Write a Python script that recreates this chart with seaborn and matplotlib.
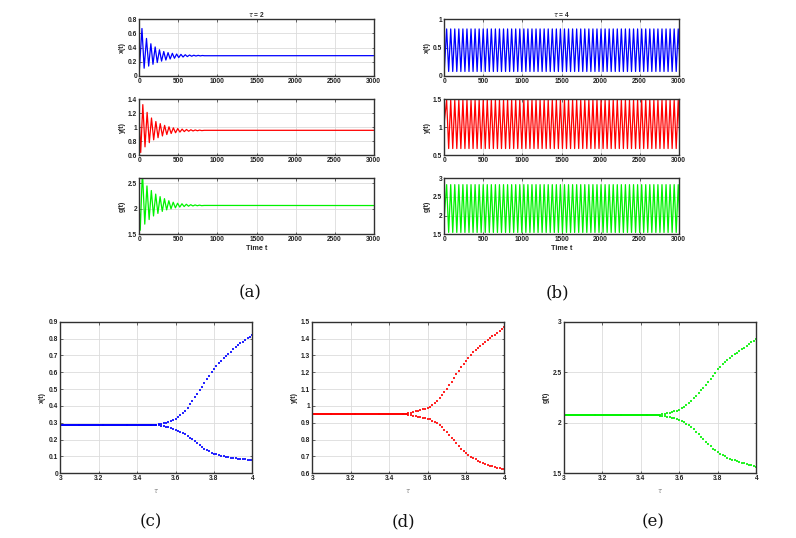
import numpy as np
import pandas as pd
import matplotlib
matplotlib.use("Agg")
import matplotlib.pyplot as plt
import seaborn as sns
from matplotlib.ticker import FixedLocator, FuncFormatter

# ---------------- data: tau = 2 (damped oscillations, extrema) -------------
x2_t = [0, 34, 62, 92, 120, 148, 175, 203, 230, 258, 285, 313, 340, 368, 395, 423, 450, 478,
        505, 533, 560, 588, 615, 643, 670, 698, 725, 753, 780, 808, 835, 3000]
x2_v = [0.07, 0.67, 0.11, 0.53, 0.14, 0.455, 0.165, 0.41, 0.19, 0.37, 0.21, 0.345, 0.225, 0.33,
        0.24, 0.32, 0.25, 0.31, 0.26, 0.305, 0.268, 0.30, 0.274, 0.296, 0.279, 0.293, 0.282,
        0.291, 0.284, 0.289, 0.286, 0.287]

y2_t = [0, 18, 45, 73, 100, 128, 156, 184, 212, 240, 268, 296, 324, 352, 380, 408, 436, 464,
        492, 520, 548, 576, 604, 632, 660, 688, 716, 744, 772, 800, 830, 3000]
y2_v = [1.10, 0.64, 1.32, 0.72, 1.21, 0.78, 1.13, 0.82, 1.08, 0.85, 1.05, 0.875, 1.025, 0.895,
        1.005, 0.91, 0.99, 0.92, 0.98, 0.93, 0.972, 0.937, 0.967, 0.942, 0.963, 0.946, 0.960,
        0.949, 0.958, 0.951, 0.955, 0.955]

g2_t = [0, 12, 40, 70, 98, 126, 154, 182, 210, 238, 266, 294, 322, 350, 378, 406, 434, 462,
        490, 518, 546, 574, 602, 630, 658, 686, 714, 742, 770, 798, 830, 3000]
g2_v = [2.00, 1.58, 2.75, 1.70, 2.45, 1.79, 2.36, 1.86, 2.29, 1.91, 2.24, 1.95, 2.20, 1.98,
        2.16, 2.00, 2.13, 2.02, 2.11, 2.035, 2.10, 2.045, 2.09, 2.052, 2.082, 2.057, 2.077,
        2.061, 2.073, 2.063, 2.067, 2.065]

# ---------------- data: tau = 4 (sustained oscillations) -------------------------------------
peak_times4 = [30, 82, 134, 186, 238, 290, 342, 394, 446, 498, 550, 602, 654, 706, 758, 810,
               862, 914, 966, 1018, 1070, 1122, 1174, 1226, 1278, 1330, 1382, 1434, 1486, 1538,
               1590, 1642, 1694, 1746, 1798, 1850, 1902, 1954, 2006, 2058, 2110, 2162, 2214,
               2266, 2318, 2370, 2422, 2474, 2526, 2578, 2630, 2682, 2734, 2786, 2838, 2890,
               2942, 2994]
half_period4 = 26
x4_start, x4_peak, x4_trough = 0.10, 0.83, 0.08
y4_start, y4_peak, y4_trough = 1.10, 1.48, 0.62
g4_start, g4_peak, g4_trough = 2.00, 2.83, 1.55

# ---------------- data: bifurcation diagrams -------------------------------------------------
tau_flat = np.arange(3.0, 3.5, 0.005)
tau_split = np.linspace(3.5, 4.0, 41)
x_eq, y_eq, g_eq = 0.287, 0.952, 2.072

x_up = [0.289, 0.291, 0.294, 0.296, 0.300, 0.304, 0.309, 0.315, 0.322, 0.332, 0.344, 0.357,
        0.372, 0.390, 0.409, 0.430, 0.451, 0.472, 0.494, 0.515, 0.536, 0.557, 0.578, 0.599,
        0.618, 0.636, 0.654, 0.669, 0.684, 0.698, 0.711, 0.723, 0.735, 0.747, 0.759, 0.771,
        0.782, 0.792, 0.802, 0.812, 0.822]
x_lo = [0.285, 0.284, 0.281, 0.279, 0.276, 0.272, 0.268, 0.264, 0.260, 0.254, 0.247, 0.240,
        0.231, 0.222, 0.212, 0.201, 0.190, 0.179, 0.167, 0.157, 0.147, 0.138, 0.130, 0.123,
        0.117, 0.112, 0.107, 0.103, 0.100, 0.097, 0.095, 0.092, 0.090, 0.088, 0.086, 0.085,
        0.083, 0.082, 0.081, 0.079, 0.078]
y_up = [0.957, 0.960, 0.963, 0.967, 0.971, 0.975, 0.979, 0.983, 0.988, 0.996, 1.006, 1.018,
        1.032, 1.048, 1.065, 1.083, 1.102, 1.122, 1.143, 1.165, 1.187, 1.208, 1.229, 1.249,
        1.268, 1.286, 1.303, 1.318, 1.332, 1.345, 1.357, 1.369, 1.380, 1.391, 1.402, 1.413,
        1.424, 1.435, 1.446, 1.457, 1.468]
y_lo = [0.948, 0.946, 0.943, 0.940, 0.937, 0.934, 0.931, 0.928, 0.925, 0.920, 0.913, 0.905,
        0.896, 0.886, 0.874, 0.860, 0.845, 0.829, 0.812, 0.795, 0.778, 0.762, 0.747, 0.733,
        0.720, 0.709, 0.699, 0.690, 0.682, 0.675, 0.668, 0.662, 0.656, 0.651, 0.646, 0.641,
        0.637, 0.633, 0.629, 0.626, 0.623]
g_up = [2.079, 2.083, 2.088, 2.093, 2.099, 2.105, 2.112, 2.120, 2.130, 2.143, 2.158, 2.176,
        2.196, 2.218, 2.242, 2.267, 2.293, 2.320, 2.348, 2.377, 2.406, 2.435, 2.464, 2.492,
        2.530, 2.556, 2.580, 2.602, 2.623, 2.642, 2.660, 2.677, 2.694, 2.711, 2.727, 2.743,
        2.763, 2.780, 2.797, 2.813, 2.830]
g_lo = [2.069, 2.066, 2.063, 2.059, 2.055, 2.051, 2.046, 2.040, 2.030, 2.020, 2.007, 1.992,
        1.975, 1.956, 1.935, 1.912, 1.888, 1.863, 1.838, 1.813, 1.789, 1.766, 1.745, 1.726,
        1.709, 1.694, 1.680, 1.667, 1.656, 1.646, 1.636, 1.627, 1.619, 1.611, 1.604, 1.597,
        1.591, 1.585, 1.579, 1.573, 1.567]

# ---------------- style ----------------------------------------------------------------------
sns.set_theme(style="ticks")
plt.rcParams['font.family'] = ['Liberation Sans', 'DejaVu Sans']
plt.rcParams['mathtext.fontset'] = 'dejavusans'

BLUE, RED, GREEN = (0, 0, 1), (1, 0, 0), (0, 0.95, 0)
SPINE = '#303030'
TICKFS = 4.8
fmt = FuncFormatter(lambda v, p: ('%g' % round(v, 6)))

fig = plt.figure(figsize=(7.96, 5.38), dpi=100)
W, H = 796.0, 538.0


def add_ax(x0, y0, x1, y1):
    return fig.add_axes([x0 / W, 1 - y1 / H, (x1 - x0) / W, (y1 - y0) / H])


def style(ax, xlim, ylim, xticks, yticks):
    ax.set_xlim(*xlim)
    ax.set_ylim(*ylim)
    ax.xaxis.set_major_locator(FixedLocator(xticks))
    ax.yaxis.set_major_locator(FixedLocator(yticks))
    ax.xaxis.set_major_formatter(fmt)
    ax.yaxis.set_major_formatter(fmt)
    ax.grid(True, color='#dcdcdc', lw=0.6)
    ax.set_axisbelow(True)
    for s in ax.spines.values():
        s.set_visible(True)
        s.set_color(SPINE)
        s.set_linewidth(1.0)
    ax.tick_params(direction='in', length=1.8, width=0.5, colors=SPINE, labelsize=TICKFS,
                   pad=1.5, top=True, right=True, labelcolor='#222222')
    for lab in ax.get_xticklabels() + ax.get_yticklabels():
        lab.set_fontweight('bold')
    ax.set_xlabel('')
    ax.set_ylabel('')


def periodic(start, peak, trough):
    t = [0]
    v = [start]
    for p in peak_times4:
        t += [p, p + half_period4]
        v += [peak, trough]
    return pd.DataFrame({'t': t, 'v': v})


rows = [(19.3, 76.0), (99.0, 155.3), (178.3, 234.3)]
labels = ['x(t)', 'y(t)', 'g(t)']
left_data = [(x2_t, x2_v, BLUE, (0, 0.8), [0, 0.2, 0.4, 0.6, 0.8]),
             (y2_t, y2_v, RED, (0.6, 1.4), [0.6, 0.8, 1, 1.2, 1.4]),
             (g2_t, g2_v, GREEN, (1.5, 2.6), [1.5, 2, 2.5])]
right_data = [(periodic(x4_start, x4_peak, x4_trough), BLUE, (0, 1), [0, 0.5, 1]),
              (periodic(y4_start, y4_peak, y4_trough), RED, (0.5, 1.5), [0.5, 1, 1.5]),
              (periodic(g4_start, g4_peak, g4_trough), GREEN, (1.5, 3), [1.5, 2, 2.5, 3])]
xt = [0, 500, 1000, 1500, 2000, 2500, 3000]

for i, ((y0, y1), lab, (tt, vv, col, yl, ytk)) in enumerate(zip(rows, labels, left_data)):
    ax = add_ax(139.3, y0, 373.7, y1)
    df = pd.DataFrame({'t': tt, 'v': vv})
    sns.lineplot(data=df, x='t', y='v', ax=ax, color=col, lw=0.9, estimator=None, sort=False)
    style(ax, (0, 3000), yl, xt, ytk)
    ax.set_ylabel(lab, fontsize=5.0, fontweight='bold', labelpad=1.5)
    if i == 0:
        ax.set_title(r'$\tau$ = 2', fontsize=4.8, fontweight='bold', pad=2)
    if i == 2:
        ax.set_xlabel('Time t', fontsize=5.2, fontweight='bold', labelpad=1.5)

for i, ((y0, y1), lab, (df, col, yl, ytk)) in enumerate(zip(rows, labels, right_data)):
    ax = add_ax(444.3, y0, 678.7, y1)
    sns.lineplot(data=df, x='t', y='v', ax=ax, color=col, lw=0.9, estimator=None, sort=False)
    style(ax, (0, 3000), yl, xt, ytk)
    ax.set_ylabel(lab, fontsize=5.0, fontweight='bold', labelpad=1.5)
    if i == 0:
        ax.set_title(r'$\tau$ = 4', fontsize=4.8, fontweight='bold', pad=2)
    if i == 2:
        ax.set_xlabel('Time t', fontsize=5.2, fontweight='bold', labelpad=1.5)

# ---------------- bifurcation panels ---------------------------------------------------------
bif = [(60.3, 252.3, x_eq, x_up, x_lo, BLUE, 'x(t)', (0, 0.9),
        [0, 0.1, 0.2, 0.3, 0.4, 0.5, 0.6, 0.7, 0.8, 0.9]),
       (312.3, 504.3, y_eq, y_up, y_lo, RED, 'y(t)', (0.6, 1.5),
        [0.6, 0.7, 0.8, 0.9, 1, 1.1, 1.2, 1.3, 1.4, 1.5]),
       (563.7, 756.3, g_eq, g_up, g_lo, GREEN, 'g(t)', (1.5, 3), [1.5, 2, 2.5, 3])]
for (x0, x1, eq, up, lo, col, lab, yl, ytk) in bif:
    ax = add_ax(x0, 321.7, x1, 473.3)
    df = pd.concat([
        pd.DataFrame({'tau': tau_flat, 'v': np.full(len(tau_flat), eq)}),
        pd.DataFrame({'tau': tau_split, 'v': up}),
        pd.DataFrame({'tau': tau_split, 'v': lo}),
    ])
    sns.scatterplot(data=df, x='tau', y='v', ax=ax, color=col, marker='s', s=1.1,
                    linewidth=0, alpha=0.85, legend=False)
    style(ax, (3, 4), yl, [3, 3.2, 3.4, 3.6, 3.8, 4], ytk)
    ax.set_ylabel(lab, fontsize=5.0, fontweight='bold', labelpad=2)
    ax.set_xlabel(r'$\tau$', fontsize=4.8, color='#888888', labelpad=3)

# ---------------- captions -------------------------------------------------------------------
caps = [('(a)', 250, 293), ('(b)', 557, 293), ('(c)', 151, 522), ('(d)', 403, 522), ('(e)', 653, 522)]
for txt, cx, cy in caps:
    fig.text(cx / W, 1 - cy / H, txt, ha='center', va='center', fontsize=12,
             family=['DejaVu Serif'], color='#111111')

fig.savefig('out.png', dpi=100)
